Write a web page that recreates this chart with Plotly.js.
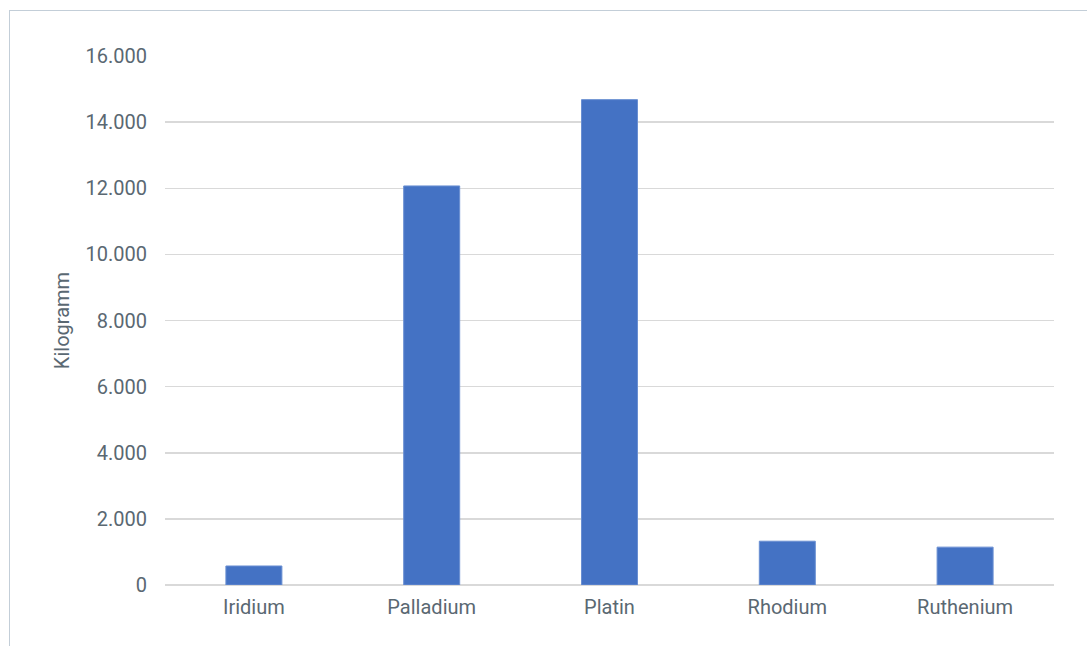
<!DOCTYPE html>
<html>
<head>
<meta charset="utf-8">
<script src="https://cdn.plot.ly/plotly-3.0.1.min.js"></script>
<style>
html,body{margin:0;padding:0;background:#fff;}
#wrap{position:relative;width:1087px;height:646px;overflow:hidden;}
#frame{position:absolute;left:9px;top:10px;width:1100px;height:700px;border:1px solid #c3ced8;box-sizing:border-box;}
#chart{position:absolute;left:0;top:0;width:1087px;height:646px;}
</style>
</head>
<body>
<div id="wrap">
<div id="frame"></div>
<div id="chart"></div>
</div>
<script>
const categories = ["Iridium", "Palladium", "Platin", "Rhodium", "Ruthenium"];
const values = [575, 12070, 14680, 1325, 1145];
const yTicks = [0, 2000, 4000, 6000, 8000, 10000, 12000, 14000, 16000];
const yTitle = "Kilogramm";

const txt = "#5a6872";
Plotly.newPlot("chart", [{
  type: "bar",
  x: categories,
  y: values,
  marker: {color: "#4472c4", line: {color: "#6a8fd2", width: 1}},
  hoverinfo: "x+y"
}], {
  width: 1087, height: 646,
  paper_bgcolor: "rgba(0,0,0,0)",
  plot_bgcolor: "rgba(0,0,0,0)",
  margin: {l: 165, r: 33, t: 56, b: 61},
  separators: ",.",
  bargap: 0.685,
  showlegend: false,
  font: {family: "Roboto, sans-serif", color: txt},
  xaxis: {
    tickfont: {size: 20, color: txt},
    showgrid: false, showline: false, ticks: "", ticklabelstandoff: 8
  },
  yaxis: {
    range: [0, 16000], autorange: false,
    tickvals: yTicks, tickformat: ",d",
    tickfont: {size: 20, color: txt},
    showgrid: true, gridcolor: "#d9d9d9", gridwidth: 1.5,
    zeroline: true, zerolinecolor: "#d9d9d9", zerolinewidth: 1.5,
    showline: false, ticks: "", ticklabelstandoff: 17,
    title: {text: yTitle, font: {size: 20, color: txt}, standoff: 10}
  }
}, {displayModeBar: false, staticPlot: true});
</script>
</body>
</html>
